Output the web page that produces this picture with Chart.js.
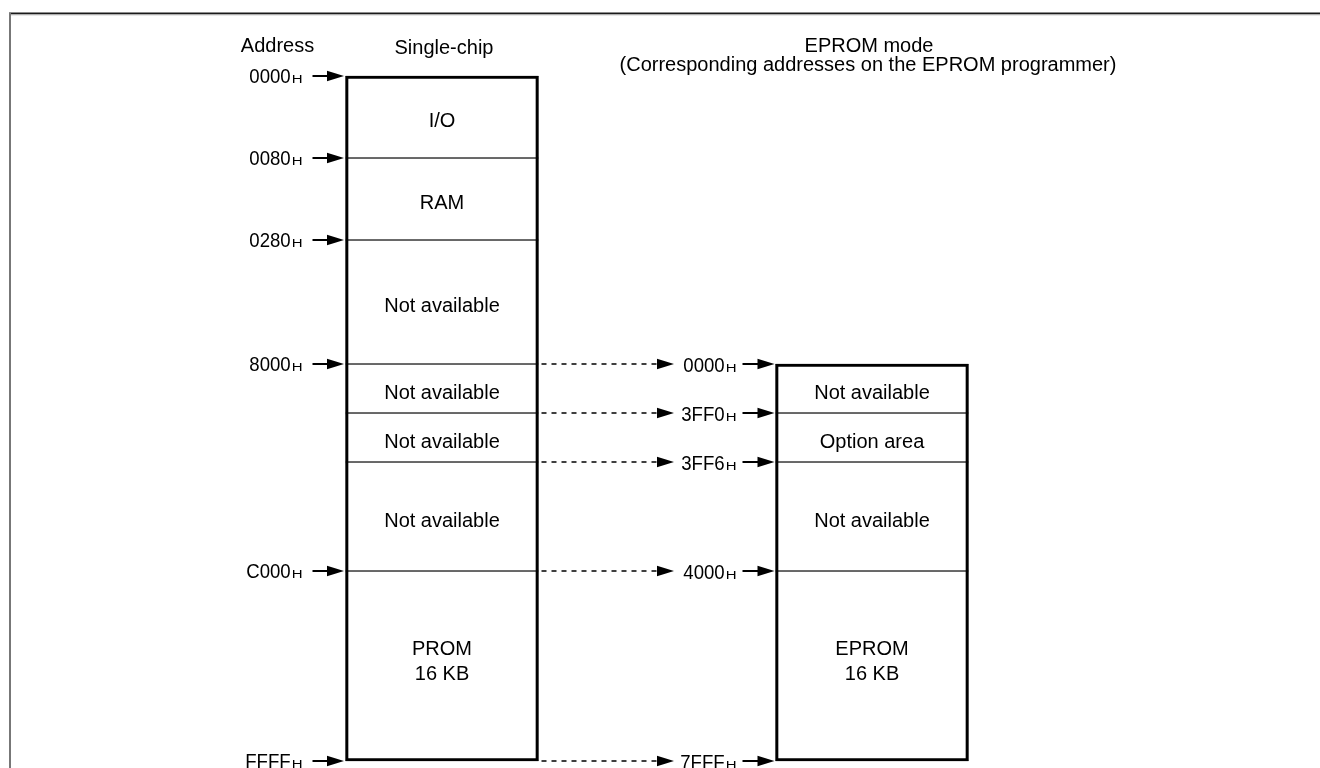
<!DOCTYPE html>
<html>
<head>
<meta charset="utf-8">
<script src="https://cdn.jsdelivr.net/npm/chart.js@4.4.1/dist/chart.umd.min.js"></script>
<style>
html,body{margin:0;padding:0;background:#fff;overflow:hidden}
#wrap{width:1320px;height:768px;position:relative}
canvas{display:block}
</style>
</head>
<body>
<div id="wrap"><canvas id="c" width="1320" height="768" style="width:1320px;height:768px"></canvas></div>
<script>
// ---- data ----
const columns = ['Single-chip', 'EPROM mode'];
const columnTitles = [['Single-chip'], ['EPROM mode', '(Corresponding addresses on the EPROM programmer)']];
const addressTitle = 'Address';
const singleChipAreas = ['I/O', 'RAM', 'Not available', 'Not available', 'Not available', 'Not available', 'PROM\n16 KB'];
const areaSpans = [8.2, 8.2, 12.4, 4.9, 4.9, 10.9, 19.0];   // relative drawn heights of the areas
const singleChipAddresses = ['0000', '0080', '0280', '8000', null, null, 'C000', 'FFFF'];
const epromFirstArea = 3;
const epromAreas = ['Not available', 'Option area', 'Not available', 'EPROM\n16 KB'];
const epromAddresses = ['0000', '3FF0', '3FF6', '4000', '7FFF'];
const addressSuffix = 'H';

// ---- derived ----
const bounds = [0];
areaSpans.forEach((s, i) => bounds.push(+(bounds[i] + s).toFixed(3)));
const total = bounds[bounds.length - 1];

const FONT = '"Liberation Sans", Arial, Helvetica, sans-serif';
const datasets = [];
datasets.push({
  label: 'frame',
  data: [[0, total], [bounds[epromFirstArea], total]],
  backgroundColor: 'rgba(0,0,0,0)',
  borderColor: '#000',
  borderWidth: 2.5,
  borderSkipped: false,
  grouped: false,
  order: 0,
  clip: false
});
singleChipAreas.forEach((name, i) => {
  datasets.push({
    label: name, area: name,
    data: [[bounds[i], bounds[i + 1]], null],
    backgroundColor: '#fff', borderColor: '#3a3a3a',
    borderWidth: {top: 1, bottom: 1, left: 0, right: 0},
    borderSkipped: false, grouped: false, order: 1, clip: false
  });
});
epromAreas.forEach((name, j) => {
  const i = epromFirstArea + j;
  datasets.push({
    label: name, area: name,
    data: [null, [bounds[i], bounds[i + 1]]],
    backgroundColor: '#fff', borderColor: '#3a3a3a',
    borderWidth: {top: 1, bottom: 1, left: 0, right: 0},
    borderSkipped: false, grouped: false, order: 1, clip: false
  });
});

function arrowHead(ctx, tip, y, len, half) {
  ctx.beginPath();
  ctx.moveTo(tip, y);
  ctx.lineTo(tip - len, y - half);
  ctx.lineTo(tip - len, y + half);
  ctx.closePath();
  ctx.fill();
}
function hLine(ctx, x0, x1, y, dash) {
  ctx.save();
  ctx.setLineDash(dash || []);
  ctx.beginPath();
  ctx.moveTo(x0, y);
  ctx.lineTo(x1, y);
  ctx.stroke();
  ctx.restore();
}
function drawAddress(ctx, text, rightX, baseline) {
  ctx.save();
  ctx.textAlign = 'left';
  ctx.textBaseline = 'alphabetic';
  ctx.font = '10px ' + FONT;
  const wH = ctx.measureText(addressSuffix).width * 1.5;
  ctx.font = '20px ' + FONT;
  const wD = ctx.measureText(text).width * 0.93;
  const x0 = rightX - wH - 1 - wD;
  ctx.save();
  ctx.translate(x0, baseline);
  ctx.scale(0.93, 1);
  ctx.fillText(text, 0, 0);
  ctx.restore();
  ctx.font = '10px ' + FONT;
  ctx.save();
  ctx.translate(rightX - wH, baseline);
  ctx.scale(1.5, 1);
  ctx.fillText(addressSuffix, 0, 0);
  ctx.restore();
  ctx.restore();
}

const diagramPlugin = {
  id: 'diagram',
  beforeDraw(chart) {
    const ctx = chart.ctx;
    ctx.save();
    ctx.fillStyle = '#fff';
    ctx.fillRect(0, 0, chart.width, chart.height);
    ctx.strokeStyle = '#1a1a1a';
    ctx.lineWidth = 2;
    hLine(ctx, 9, chart.width, 13.5);
    ctx.strokeStyle = '#d0d0d0';
    ctx.lineWidth = 1;
    hLine(ctx, 11, chart.width, 15);
    ctx.strokeStyle = '#777';
    ctx.lineWidth = 2;
    ctx.beginPath(); ctx.moveTo(10, 13); ctx.lineTo(10, chart.height); ctx.stroke();
    ctx.restore();
  },
  afterDatasetsDraw(chart) {
    const ctx = chart.ctx;
    const y = chart.scales.y;
    const frameMeta = chart.getDatasetMeta(0);
    const L = frameMeta.data[0], R = frameMeta.data[1];
    const lLeft = L.x - L.width / 2, lRight = L.x + L.width / 2;
    const rLeft = R.x - R.width / 2;
    ctx.save();
    ctx.fillStyle = '#000';
    ctx.strokeStyle = '#000';

    // area labels
    ctx.font = '20px ' + FONT;
    ctx.textAlign = 'center';
    ctx.textBaseline = 'alphabetic';
    chart.data.datasets.forEach((ds, di) => {
      if (!ds.area) return;
      const meta = chart.getDatasetMeta(di);
      meta.data.forEach((el, k) => {
        if (ds.data[k] == null) return;
        const cy = (el.y + el.base) / 2;
        const lines = ds.area.split('\n');
        const first = cy + 10 - (lines.length - 1) * 21.3;
        lines.forEach((t, li) => ctx.fillText(t, el.x, first + li * 25.7));
      });
    });

    // titles
    ctx.fillText(addressTitle, lLeft - 68, 52);
    ctx.fillText(columnTitles[0][0], L.x + 2, 53.5);
    ctx.fillText(columnTitles[1][0], R.x - 3, 52);
    ctx.fillText(columnTitles[1][1], R.x - 4, 71);

    // single-chip addresses
    ctx.lineWidth = 2;
    singleChipAddresses.forEach((a, i) => {
      if (!a) return;
      const py = y.getPixelForValue(bounds[i]);
      drawAddress(ctx, a, lLeft - 43, py + 7);
      hLine(ctx, lLeft - 33, lLeft - 16, py);
      arrowHead(ctx, lLeft - 1.5, py, 17, 5.2);
    });

    // EPROM addresses with dashed links
    epromAddresses.forEach((a, j) => {
      const py = y.getPixelForValue(bounds[epromFirstArea + j]);
      ctx.lineWidth = 1.3;
      hLine(ctx, lRight + 3, 659, py, [5, 5]);
      arrowHead(ctx, 674, py, 17, 5.2);
      drawAddress(ctx, a, rLeft - 39, py + 7.5);
      ctx.lineWidth = 2;
      hLine(ctx, rLeft - 33, rLeft - 16, py);
      arrowHead(ctx, rLeft - 1, py, 17, 5.2);
    });
    ctx.restore();
  }
};

new Chart(document.getElementById('c'), {
  type: 'bar',
  data: { labels: columns, datasets },
  options: {
    responsive: false,
    animation: false,
    devicePixelRatio: 1,
    layout: { padding: { top: 76, bottom: 7, left: 227, right: 233 } },
    barThickness: 193,
    scales: {
      x: { display: false, offset: true },
      y: { display: false, reverse: true, min: 0, max: total }
    },
    plugins: { legend: { display: false }, tooltip: { enabled: false }, title: { display: false } },
    events: []
  },
  plugins: [diagramPlugin]
});
</script>
</body>
</html>
